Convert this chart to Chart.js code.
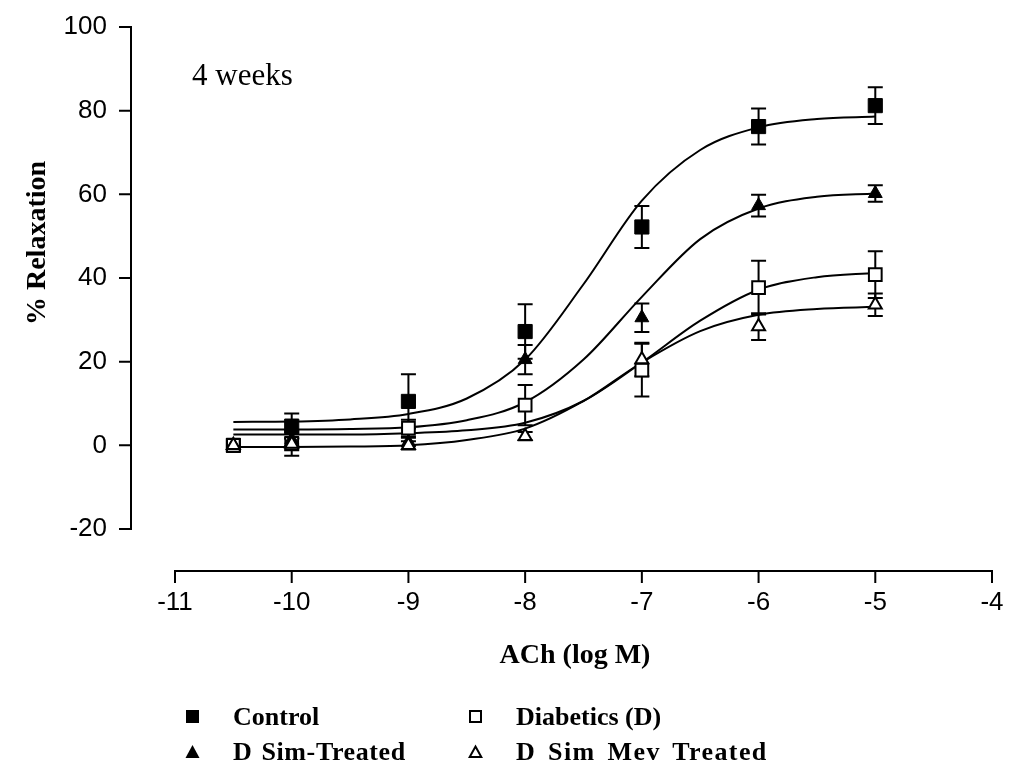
<!DOCTYPE html>
<html>
<head>
<meta charset="utf-8">
<script src="https://cdn.jsdelivr.net/npm/chart.js@4.4.1/dist/chart.umd.min.js"></script>
<style>
  html, body { margin: 0; padding: 0; background: #fff; }
  #wrap { position: relative; width: 1015px; height: 776px; }
  #grafico { position: absolute; left: 0; top: 0; }
  .sim { position: absolute; width: 15px; height: 15px; }
  .leg { position: absolute; font: bold 26px "Liberation Serif", "Times New Roman", serif; line-height: 30px; color: #000; white-space: nowrap; }
  .largo { letter-spacing: 0.6px; word-spacing: 2px; }
  .largo2 { letter-spacing: 1.4px; word-spacing: 4px; }
</style>
</head>
<body>
<div id="wrap">
  <canvas id="grafico" width="1015" height="776"></canvas>

  <!-- legenda -->
  <svg class="sim" style="left:185px; top:709px;" viewBox="0 0 15 15"><rect x="1" y="1" width="13" height="13" fill="#000"/></svg>
  <div class="leg" style="left:233px; top:702px;">Control</div>
  <svg class="sim" style="left:468px; top:709px;" viewBox="0 0 15 15"><rect x="2" y="2" width="11" height="11" fill="#fff" stroke="#000" stroke-width="2"/></svg>
  <div class="leg" style="left:516px; top:702px;">Diabetics (D)</div>
  <svg class="sim" style="left:185px; top:744px;" viewBox="0 0 15 15"><polygon points="7.5,1 14.5,14 0.5,14" fill="#000"/></svg>
  <div class="leg largo" style="left:233px; top:737px;">D Sim-Treated</div>
  <svg class="sim" style="left:468px; top:744px;" viewBox="0 0 15 15"><polygon points="7.5,2.5 13.3,13 1.7,13" fill="#fff" stroke="#000" stroke-width="2"/></svg>
  <div class="leg largo2" style="left:516px; top:737px;">D Sim Mev Treated</div>
</div>

<script>
// ================= DADOS =================
const doses = [-10.5, -10, -9, -8, -7, -6, -5];

const controle = [0, 4.6, 10.5, 27.2, 52.2, 76.2, 81.2];
const controleErro = [0, 3, 6.5, 6.5, 5, 4.3, 4.4];

const diabeticos = [0, 0.5, 4.1, 9.6, 18.0, 37.7, 40.8];
const diabeticosErro = [0, 3, 2, 4.8, 6.3, 6.4, 5.6];

const simTratado = [0, 1.4, 0.8, 20.5, 30.5, 57.3, 60.2];
const simTratadoErro = [0, 1.5, 1, 3.5, 3.4, 2.6, 2];

const simMev = [0, 0.3, 0, 2.2, 20.5, 28.4, 33.6];
const simMevErro = [0, 1.5, 1, 1, 4, 3.2, 2.7];

// curvas ajustadas
const curvaX = [-10.5, -10, -9.5, -9, -8.5, -8, -7.5, -7, -6.5, -6, -5.5, -5];
const curvaControle = [5.6, 5.7, 6.2, 7.5, 11.2, 20.5, 38.5, 58.5, 70.6, 76.0, 78.0, 78.6];
const curvaSim = [3.8, 3.8, 3.9, 4.3, 6.0, 10.3, 20.5, 35.5, 49.3, 56.6, 59.4, 60.2];
const curvaDiab = [2.6, 2.6, 2.6, 2.9, 3.6, 5.4, 10.6, 19.8, 29.8, 37.2, 40.2, 41.2];
const curvaMev = [-0.4, -0.4, -0.3, 0.0, 1.3, 4.0, 10.6, 19.8, 27.3, 31.2, 32.6, 33.1];

const xTicks = [-11, -10, -9, -8, -7, -6, -5, -4];
const yTicks = [100, 80, 60, 40, 20, 0, -20];

// ================= MONTA OS DATASETS =================
const pontos = (xs, ys) => xs.map((v, i) => ({ x: v, y: ys[i] }));

function curva(ys) {
  return {
    data: pontos(curvaX, ys),
    showLine: true,
    borderColor: '#000',
    borderWidth: 2,
    pointRadius: 0,
    cubicInterpolationMode: 'monotone',
    order: 10
  };
}

function serie(ys, estilo, cheio, raio, ordem) {
  return {
    data: pontos(doses, ys),
    showLine: false,
    pointStyle: estilo,
    pointRadius: raio,
    backgroundColor: cheio ? '#000' : '#fff',
    borderColor: '#000',
    borderWidth: cheio ? 1 : 2,
    order: ordem
  };
}

const grupos = [
  { media: controle, erro: controleErro },
  { media: diabeticos, erro: diabeticosErro },
  { media: simTratado, erro: simTratadoErro },
  { media: simMev, erro: simMevErro }
];

// ================= PLUGINS =================
// barras de erro (SEM)
const barrasErro = {
  id: 'barrasErro',
  beforeDatasetsDraw(chart) {
    const { ctx, scales: { x, y } } = chart;
    ctx.save();
    ctx.strokeStyle = '#000';
    ctx.lineWidth = 2;
    grupos.forEach(g => {
      doses.forEach((d, i) => {
        const e = g.erro[i];
        if (!e) return;
        const px = x.getPixelForValue(d);
        const yTop = y.getPixelForValue(g.media[i] + e);
        const yBot = y.getPixelForValue(g.media[i] - e);
        ctx.beginPath();
        ctx.moveTo(px, yTop); ctx.lineTo(px, yBot);
        ctx.moveTo(px - 7.5, yTop); ctx.lineTo(px + 7.5, yTop);
        ctx.moveTo(px - 7.5, yBot); ctx.lineTo(px + 7.5, yBot);
        ctx.stroke();
      });
    });
    ctx.restore();
  }
};

// eixos deslocados estilo Prism + títulos
const eixos = {
  id: 'eixos',
  afterDraw(chart) {
    const { ctx, scales: { x, y } } = chart;
    const linhaY = x.left - 44;
    const linhaX = y.bottom + 42;
    ctx.save();
    ctx.strokeStyle = '#000';
    ctx.fillStyle = '#000';
    ctx.lineWidth = 2;

    // eixo Y
    ctx.beginPath();
    ctx.moveTo(linhaY, y.getPixelForValue(yTicks[0]) - 1);
    ctx.lineTo(linhaY, y.getPixelForValue(yTicks[yTicks.length - 1]) + 1);
    yTicks.forEach(v => {
      const py = y.getPixelForValue(v);
      ctx.moveTo(linhaY - 12, py);
      ctx.lineTo(linhaY, py);
    });
    // eixo X
    ctx.moveTo(x.getPixelForValue(xTicks[0]) - 1, linhaX);
    ctx.lineTo(x.getPixelForValue(xTicks[xTicks.length - 1]) + 1, linhaX);
    xTicks.forEach(v => {
      const px = x.getPixelForValue(v);
      ctx.moveTo(px, linhaX);
      ctx.lineTo(px, linhaX + 12);
    });
    ctx.stroke();

    // rótulos dos ticks
    ctx.font = '26px "Liberation Sans", Arial, sans-serif';
    ctx.textAlign = 'right';
    ctx.textBaseline = 'middle';
    yTicks.forEach(v => ctx.fillText(String(v), linhaY - 24, y.getPixelForValue(v)));
    ctx.textAlign = 'center';
    xTicks.forEach(v => ctx.fillText(String(v), x.getPixelForValue(v), linhaX + 32));

    // títulos
    ctx.font = 'bold 28px "Liberation Serif", "Times New Roman", serif';
    ctx.fillText('ACh (log M)', 575, 656);
    ctx.save();
    ctx.translate(38, 243);
    ctx.rotate(-Math.PI / 2);
    ctx.fillText('% Relaxation', 0, 0);
    ctx.restore();

    ctx.font = '31px "Liberation Serif", "Times New Roman", serif';
    ctx.textAlign = 'left';
    ctx.fillText('4 weeks', 192, 77);
    ctx.restore();
  }
};

// ================= GRÁFICO =================
const ctx = document.getElementById('grafico');

new Chart(ctx.getContext('2d'), {
  type: 'scatter',
  data: {
    datasets: [
      curva(curvaControle),
      curva(curvaSim),
      curva(curvaDiab),
      curva(curvaMev),
      serie(controle, 'rect', true, 10, 4),
      serie(diabeticos, 'rect', false, 9, 3),
      serie(simTratado, 'triangle', true, 8, 2),
      serie(simMev, 'triangle', false, 7.5, 1)
    ]
  },
  options: {
    responsive: false,
    devicePixelRatio: 1,
    animation: false,
    events: [],
    layout: { padding: { left: 175, right: 23, top: 27, bottom: 247 } },
    scales: {
      x: { type: 'linear', min: -11, max: -4, display: false },
      y: { type: 'linear', min: -20, max: 100, display: false }
    },
    plugins: {
      legend: { display: false },
      tooltip: { enabled: false }
    }
  },
  plugins: [barrasErro, eixos]
});
</script>
</body>
</html>
